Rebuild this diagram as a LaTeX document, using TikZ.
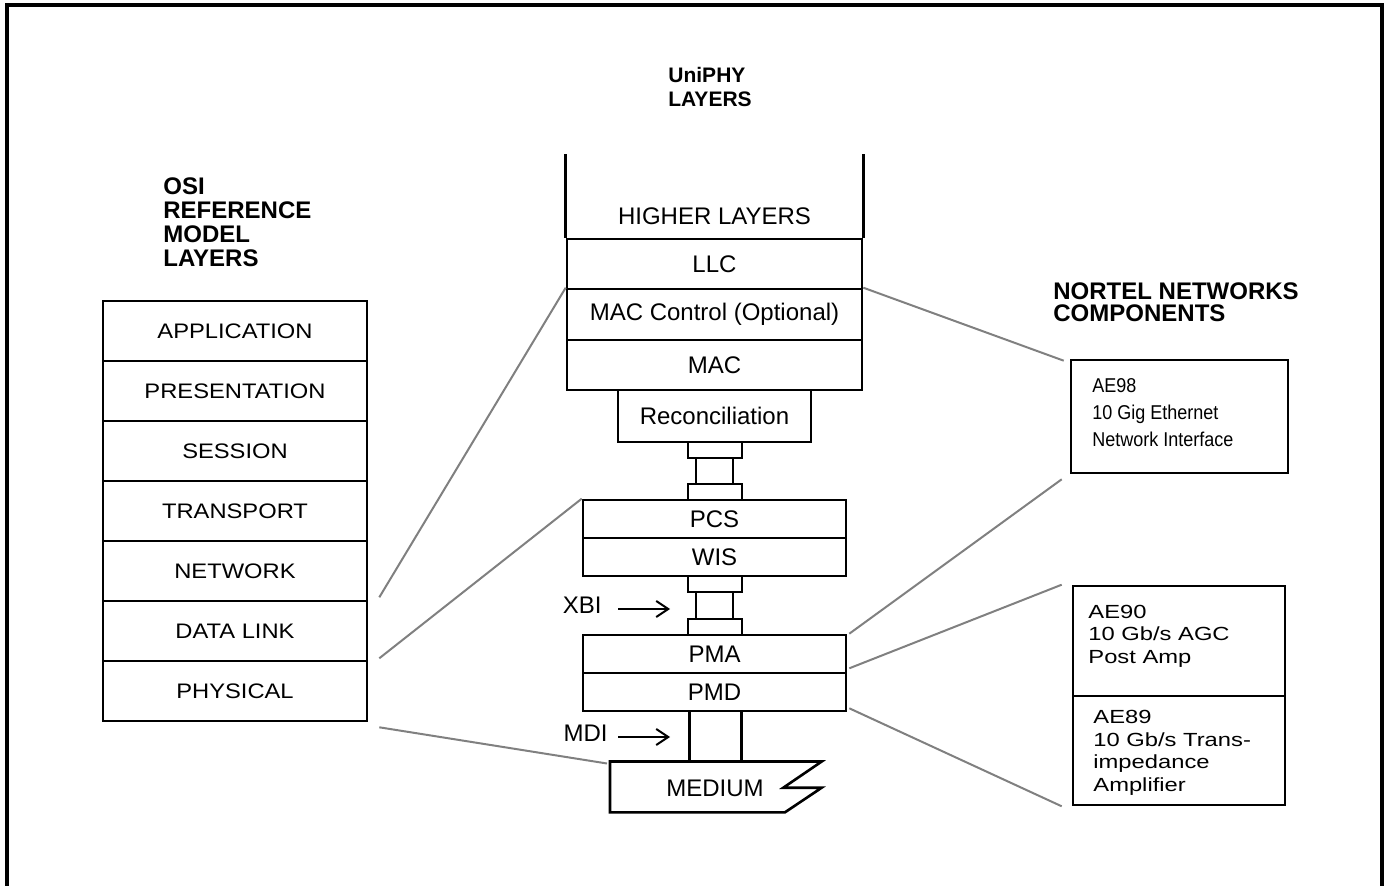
\documentclass[tikz,border=0pt]{standalone}
\usepackage{fontspec}
\setmainfont{Liberation Sans}
\newfontfamily\osifont[FakeStretch=1.13]{Liberation Sans}
\newfontfamily\widefont[FakeStretch=1.25]{Liberation Sans}
\newfontfamily\narrowfont[FakeStretch=0.9]{Liberation Sans}
\usetikzlibrary{arrows.meta}
\begin{document}
\begin{tikzpicture}[x=0.5pt,y=-0.5pt,
  boxline/.style={line width=1.3pt},
  osirow/.style={draw,line width=1.3pt,inner sep=0pt,minimum width=132pt,minimum height=30pt,
    font=\osifont\fontsize{10.5}{12}\selectfont},
  midrow/.style={draw,line width=1.3pt,inner sep=0pt,font=\fontsize{12}{14}\selectfont},
  midtext/.style={inner sep=0pt,font=\fontsize{12}{14}\selectfont},
  compbox/.style={draw,line width=1.3pt,inner sep=0pt},
  link/.style={draw=black!50,line width=1pt},
  tip/.style={-{Straight Barb[length=6pt,width=8pt]},line width=1pt},
  titletext/.style={inner sep=0pt,align=left,font=\bfseries\fontsize{12}{12}\selectfont}
]
\useasboundingbox (0,0) rectangle (1385,886);
% frame
\draw[line width=1.7pt] (7,886) -- (7,5) -- (1382,5) -- (1382,886);

% ---------- OSI column ----------
\node[titletext,anchor=west] (osititle) at (163,222) {OSI\\REFERENCE\\MODEL\\LAYERS};
\node[osirow] (app)  at (235,331) {APPLICATION};
\node[osirow] (pres) at (235,391) {PRESENTATION};
\node[osirow] (sess) at (235,451) {SESSION};
\node[osirow] (trans) at (235,511) {TRANSPORT};
\node[osirow] (net)  at (235,571) {NETWORK};
\node[osirow] (dl)   at (235,631) {DATA LINK};
\node[osirow] (phys) at (235,691) {PHYSICAL};

% ---------- UniPHY column ----------
\node[titletext,anchor=west,font=\bfseries\fontsize{10.5}{12}\selectfont] (unititle) at (668,87) {UniPHY\\LAYERS};
\node[midtext] (higher) at (714.5,216) {HIGHER LAYERS};
\node[midrow,minimum width=147.5pt,minimum height=25pt] (llc) at (714.5,264) {LLC};
\node[midrow,minimum width=147.5pt,minimum height=25.5pt] (macctl) at (714.5,314.5) {MAC Control (Optional)};
\node[midrow,minimum width=147.5pt,minimum height=25pt] (mac) at (714.5,365) {MAC};
\draw[boxline] (llc.north west) -- ++(0,-84);
\draw[boxline] (llc.north east) -- ++(0,-84);
\node[midrow,minimum width=96.5pt,minimum height=26pt] (rec) at (714.5,416) {Reconciliation};
% interface 1
\node[compbox,minimum width=27pt,minimum height=8pt] (c1a) at (715,450) {};
\node[compbox,minimum width=18.5pt,minimum height=13pt] (c1b) at (714.5,471) {};
\node[compbox,minimum width=27pt,minimum height=8pt] (c1c) at (715,492) {};
\node[midrow,minimum width=131.5pt,minimum height=19pt] (pcs) at (714.5,519) {PCS};
\node[midrow,minimum width=131.5pt,minimum height=19pt] (wis) at (714.5,557) {WIS};
% interface 2 (XBI)
\node[compbox,minimum width=27pt,minimum height=8pt] (c2a) at (715,584) {};
\node[compbox,minimum width=18.5pt,minimum height=13.5pt] (c2b) at (714.5,605.5) {};
\node[compbox,minimum width=27pt,minimum height=8pt] (c2c) at (715,627) {};
\node[midrow,minimum width=131.5pt,minimum height=19pt] (pma) at (714.5,654) {PMA};
\node[midrow,minimum width=131.5pt,minimum height=19pt] (pmd) at (714.5,692) {PMD};
% MDI
\draw[boxline] (689.3,711) -- (689.3,761.5);
\draw[boxline] (741.3,711) -- (741.3,761.5);
% medium
\draw[boxline,line join=miter] (610,761.5) coordinate (medtl) -- (821.7,761.5) -- (783.3,787.7)
  -- (821.7,787.7) -- (785,812.3) -- (610,812.3) -- cycle;
\node[midtext] (medium) at (715,788) {MEDIUM};
% labels and arrows
\node[midtext,anchor=east] (xbi) at (602,605) {XBI};
\coordinate (xbiend) at (670,609);
\draw[tip] ([shift={(8pt,-2pt)}]xbi.east) -- (xbiend);
\node[midtext,anchor=east] (mdi) at (608,733) {MDI};
\coordinate (mdiend) at (670,737);
\draw[tip] ([shift={(5pt,-2pt)}]mdi.east) -- (mdiend);

% ---------- Nortel column ----------
\node[titletext,anchor=west,font=\bfseries\fontsize{12}{11}\selectfont] (nortitle) at (1053,302) {NORTEL NETWORKS\\COMPONENTS};
\node[compbox,minimum width=108.5pt,minimum height=56.5pt] (ae98) at (1179.5,416.5) {};
\node[inner sep=0pt,anchor=west,align=left,font=\narrowfont\fontsize{10}{13.5}\selectfont] (ae98t) at (1092,413)
  {AE98\\10 Gig Ethernet\\Network Interface};
\node[compbox,minimum width=106pt,minimum height=55pt] (ae90) at (1179,641) {};
\node[inner sep=0pt,anchor=west,align=left,font=\widefont\fontsize{9.5}{11.25}\selectfont] (ae90t) at (1088,636)
  {AE90\\10 Gb/s AGC\\Post Amp};
\node[compbox,minimum width=106pt,minimum height=54.5pt] (ae89) at (1179,750.5) {};
\node[inner sep=0pt,anchor=west,align=left,font=\widefont\fontsize{9.5}{11.25}\selectfont] (ae89t) at (1093,753)
  {AE89\\10 Gb/s Trans-\\impedance\\Amplifier};

% ---------- gray connectors ----------
\draw[link] ([shift={(5.5pt,2.5pt)}]net.south east) -- (macctl.north west);
\draw[link] ([shift={(5.5pt,2pt)}]dl.south east) -- (pcs.north west);
\draw[link] ([shift={(5.5pt,-2.5pt)}]phys.south east) -- ([shift={(-1.5pt,-1pt)}]medtl);
\draw[link] (macctl.north east) -- ([shift={(-3pt,-1pt)}]ae98.north west);
\draw[link] ([xshift=1pt]pma.north east) -- ([shift={(-4pt,-2.5pt)}]ae98.south west);
\draw[link] ([shift={(1pt,3pt)}]pma.south east) -- ([xshift=-5pt]ae90.north west);
\draw[link] ([shift={(1pt,2pt)}]pmd.south east) -- ([xshift=-5pt]ae89.south west);
\end{tikzpicture}
\end{document}
